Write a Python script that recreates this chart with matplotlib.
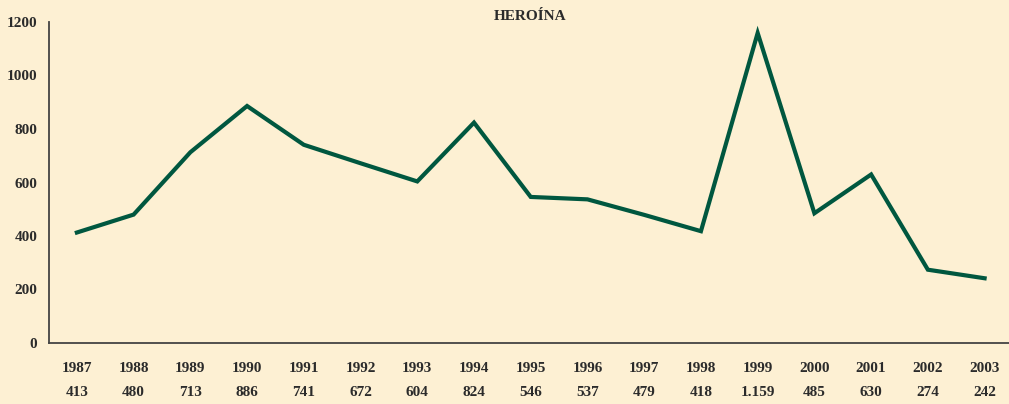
import matplotlib.pyplot as plt
from matplotlib.transforms import blended_transform_factory

years = ['1987', '1988', '1989', '1990', '1991', '1992', '1993', '1994', '1995',
         '1996', '1997', '1998', '1999', '2000', '2001', '2002', '2003']
values = [413, 480, 713, 886, 741, 672, 604, 824, 546, 537, 479, 418, 1159, 485, 630, 274, 242]
value_labels = ['413', '480', '713', '886', '741', '672', '604', '824', '546', '537', '479',
                '418', '1.159', '485', '630', '274', '242']

bg = '#FDF0D3'
green = '#00573F'
ink = '#2b2b2b'

plt.rcParams['font.family'] = ['Liberation Serif', 'DejaVu Serif']
plt.rcParams['font.weight'] = 'bold'

fig = plt.figure(figsize=(10.09, 4.04), dpi=100, facecolor=bg)
ax = fig.add_axes([48.5 / 1009, 1 - 343 / 404, (1009 - 48.5) / 1009, 321 / 404])
ax.set_facecolor(bg)

x = list(range(len(years)))
ax.plot(x, values, color=green, lw=3.0, solid_joinstyle='miter')

ax.set_xlim(-0.5, 16.43)
ax.set_ylim(0, 1200)
ax.set_yticks(range(0, 1201, 200))
ax.set_xticks(x)
ax.set_xticklabels(years)
ax.tick_params(axis='both', length=0, labelsize=11, colors=ink)
ax.tick_params(axis='x', pad=14)
ax.tick_params(axis='y', pad=8)

for side in ['top', 'right']:
    ax.spines[side].set_visible(False)
for side in ['left', 'bottom']:
    ax.spines[side].set_color('#444444')
    ax.spines[side].set_linewidth(1.3)

# second row with the values
trans = blended_transform_factory(ax.transData, ax.transAxes)
for xi, lab in zip(x, value_labels):
    ax.text(xi, -50 / 321, lab, transform=trans, ha='center', va='center',
            fontsize=11, color=ink, fontweight='bold')

fig.text(530 / 1009, 1 - 17 / 404, 'HEROÍNA', ha='center', va='center',
         fontsize=11, fontweight='bold', color=ink)

fig.savefig('out.png', dpi=100, facecolor=bg)
